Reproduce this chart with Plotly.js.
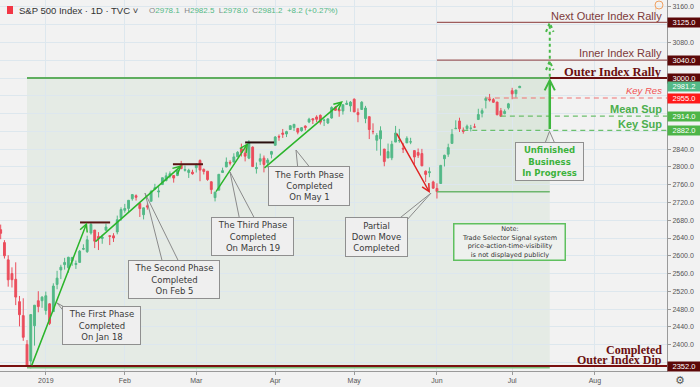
<!DOCTYPE html>
<html><head><meta charset="utf-8">
<script src="https://cdn.plot.ly/plotly-3.0.1.min.js"></script>
<style>html,body{margin:0;padding:0;background:#f2f2f2;}#chart{width:700px;height:387px;}</style>
</head><body><div id="chart"></div>
<script>
// ---- data (S&P 500 Index, daily, TVC) ----
const dates = ["2018-12-12","2018-12-13","2018-12-14","2018-12-17","2018-12-18","2018-12-19","2018-12-20","2018-12-21","2018-12-24","2018-12-26","2018-12-27","2018-12-28","2018-12-31",
"2019-01-02","2019-01-03","2019-01-04","2019-01-07","2019-01-08","2019-01-09","2019-01-10","2019-01-11","2019-01-14","2019-01-15","2019-01-16","2019-01-17","2019-01-18","2019-01-22","2019-01-23","2019-01-24","2019-01-25","2019-01-28","2019-01-29","2019-01-30","2019-01-31",
"2019-02-01","2019-02-04","2019-02-05","2019-02-06","2019-02-07","2019-02-08","2019-02-11","2019-02-12","2019-02-13","2019-02-14","2019-02-15","2019-02-19","2019-02-20","2019-02-21","2019-02-22","2019-02-25","2019-02-26","2019-02-27","2019-02-28",
"2019-03-01","2019-03-04","2019-03-05","2019-03-06","2019-03-07","2019-03-08","2019-03-11","2019-03-12","2019-03-13","2019-03-14","2019-03-15","2019-03-18","2019-03-19","2019-03-20","2019-03-21","2019-03-22","2019-03-25","2019-03-26","2019-03-27","2019-03-28","2019-03-29",
"2019-04-01","2019-04-02","2019-04-03","2019-04-04","2019-04-05","2019-04-08","2019-04-09","2019-04-10","2019-04-11","2019-04-12","2019-04-15","2019-04-16","2019-04-17","2019-04-18","2019-04-22","2019-04-23","2019-04-24","2019-04-25","2019-04-26","2019-04-29","2019-04-30",
"2019-05-01","2019-05-02","2019-05-03","2019-05-06","2019-05-07","2019-05-08","2019-05-09","2019-05-10","2019-05-13","2019-05-14","2019-05-15","2019-05-16","2019-05-17","2019-05-20","2019-05-21","2019-05-22","2019-05-23","2019-05-24","2019-05-28","2019-05-29","2019-05-30","2019-05-31",
"2019-06-03","2019-06-04","2019-06-05","2019-06-06","2019-06-07","2019-06-10","2019-06-11","2019-06-12","2019-06-13","2019-06-14","2019-06-17","2019-06-18","2019-06-19","2019-06-20","2019-06-21","2019-06-24","2019-06-25","2019-06-26","2019-06-27","2019-06-28",
"2019-07-01","2019-07-02","2019-07-03"];
const open = [2658.2,2658.7,2629.7,2590.8,2559.9,2547.1,2496.8,2465.4,2400.6,2363.1,2442.5,2498.8,2498.9,
2477.0,2491.9,2474.3,2535.6,2568.1,2580.0,2573.5,2588.1,2580.3,2585.1,2614.8,2609.3,2651.3,2657.9,2643.5,2638.8,2657.4,2645.0,2644.9,2653.6,2685.5,
2702.3,2706.5,2728.3,2735.1,2717.5,2692.4,2712.4,2722.6,2750.3,2743.5,2760.2,2769.3,2779.1,2780.7,2780.7,2804.4,2792.4,2787.5,2788.1,
2798.2,2814.4,2794.4,2790.3,2766.5,2730.8,2747.6,2787.3,2799.8,2810.4,2810.8,2822.6,2840.8,2831.3,2819.7,2844.5,2796.0,2812.7,2819.7,2809.4,2828.3,
2848.6,2868.2,2876.1,2874.0,2884.2,2888.5,2886.6,2881.4,2891.9,2900.9,2908.3,2912.3,2916.0,2904.8,2898.8,2910.0,2934.0,2929.0,2925.8,2940.6,2937.1,
2952.3,2922.2,2929.2,2908.9,2913.0,2879.6,2859.8,2863.1,2840.2,2820.1,2820.4,2855.8,2858.6,2841.9,2854.0,2856.1,2836.7,2832.4,2830.0,2790.3,2786.9,2766.2,
2751.5,2762.6,2818.1,2828.5,2852.9,2885.8,2903.3,2882.7,2886.2,2886.8,2889.8,2906.7,2920.6,2949.6,2952.7,2951.4,2945.8,2926.1,2919.7,2932.9,
2971.4,2964.7,2978.1];
const high = [2685.4,2670.2,2635.1,2601.1,2574.0,2585.3,2509.6,2504.4,2410.3,2467.8,2489.1,2520.3,2509.2,
2519.5,2493.1,2538.1,2566.2,2579.8,2595.3,2597.8,2596.3,2589.3,2613.1,2625.8,2645.1,2675.5,2657.9,2653.2,2647.2,2672.4,2645.0,2650.9,2690.4,2709.0,
2716.7,2725.0,2739.0,2738.1,2719.3,2708.1,2718.1,2748.2,2761.9,2757.9,2775.7,2787.3,2789.9,2781.6,2794.2,2813.5,2803.1,2795.8,2793.7,
2808.0,2816.9,2796.4,2790.3,2767.3,2744.1,2784.0,2798.3,2821.2,2815.0,2830.7,2835.4,2852.4,2843.5,2860.3,2846.2,2809.8,2829.9,2825.6,2819.7,2836.0,
2869.4,2872.9,2885.3,2881.3,2893.2,2896.0,2886.9,2889.7,2893.4,2910.5,2909.6,2916.1,2918.0,2908.4,2909.5,2936.3,2936.8,2933.1,2939.9,2949.5,2948.2,
2954.1,2931.7,2947.9,2937.3,2913.0,2898.0,2876.0,2891.3,2840.2,2852.5,2858.7,2892.2,2885.5,2853.9,2868.9,2865.5,2836.7,2841.4,2840.5,2792.0,2799.0,2769.0,
2763.1,2804.5,2827.3,2852.1,2885.0,2904.8,2910.6,2888.6,2895.2,2894.5,2897.3,2930.8,2931.7,2958.1,2964.2,2954.9,2946.5,2932.6,2929.3,2944.0,
2977.9,2973.2,2982.5];
const low = [2650.3,2637.3,2593.8,2530.5,2528.7,2489.0,2441.2,2408.6,2351.1,2346.6,2397.9,2472.9,2482.8,
2467.5,2444.0,2474.3,2524.6,2547.6,2568.9,2562.0,2577.4,2570.4,2585.1,2612.7,2606.4,2647.6,2617.3,2612.9,2627.0,2657.3,2624.1,2631.1,2648.3,2678.7,
2696.9,2698.8,2724.0,2724.2,2687.3,2681.8,2703.8,2722.6,2748.6,2731.2,2760.2,2767.3,2774.1,2764.6,2779.1,2795.0,2789.5,2775.1,2782.5,
2787.4,2767.7,2783.0,2768.7,2739.1,2722.3,2747.6,2786.7,2799.8,2803.5,2810.8,2822.0,2823.3,2812.4,2817.4,2800.5,2785.0,2804.0,2787.7,2798.8,2819.2,
2848.6,2858.8,2865.2,2867.1,2883.0,2880.8,2873.3,2879.1,2882.0,2898.4,2896.5,2900.7,2895.5,2891.9,2896.4,2908.5,2926.1,2912.8,2917.6,2939.4,2924.1,
2923.4,2900.5,2929.2,2898.2,2862.6,2873.3,2836.4,2825.4,2801.4,2820.1,2815.1,2855.8,2854.2,2831.3,2854.0,2851.1,2805.5,2820.2,2801.6,2766.1,2776.7,2750.5,
2728.8,2762.6,2800.9,2822.5,2852.9,2885.5,2878.5,2874.7,2882.0,2879.6,2887.3,2905.4,2911.4,2931.5,2946.9,2944.1,2916.0,2913.0,2918.6,2929.1,
2952.2,2955.9,2978.0];
const close = [2651.1,2650.5,2600.0,2545.9,2546.2,2507.0,2467.4,2416.6,2351.1,2467.7,2488.8,2485.7,2506.9,
2510.0,2447.9,2531.9,2549.7,2574.4,2585.0,2596.6,2596.3,2582.6,2610.3,2616.1,2636.0,2670.7,2632.9,2638.7,2642.3,2664.8,2643.9,2640.0,2681.1,2704.1,
2706.5,2724.9,2737.7,2731.6,2706.1,2707.9,2709.8,2744.7,2753.0,2745.7,2775.6,2779.8,2784.7,2774.9,2792.7,2796.1,2793.9,2792.4,2784.5,
2803.7,2792.8,2789.7,2771.5,2748.9,2743.1,2783.3,2791.5,2810.9,2808.5,2822.5,2832.9,2832.6,2824.2,2854.9,2800.7,2798.4,2818.5,2805.4,2815.4,2834.4,
2867.2,2867.2,2873.4,2879.4,2892.7,2895.8,2878.2,2888.2,2888.3,2907.4,2905.6,2907.1,2900.5,2905.0,2908.0,2933.7,2927.3,2926.2,2939.9,2943.0,2945.8,
2923.7,2917.5,2945.6,2932.5,2884.1,2879.4,2870.7,2881.4,2811.9,2834.4,2851.0,2876.3,2859.5,2840.2,2864.4,2856.3,2822.2,2826.1,2802.4,2783.0,2788.9,2752.1,
2744.5,2803.3,2826.2,2843.5,2873.3,2886.7,2885.7,2879.8,2891.6,2887.0,2889.7,2917.8,2926.5,2954.2,2950.5,2945.4,2917.4,2913.8,2924.9,2941.8,
2964.3,2973.0,2981.2];

const monthTicks  = ["2019-01-02","2019-02-01","2019-03-01","2019-04-01","2019-05-01","2019-06-03","2019-07-01","2019-08-01"];
const monthLabels = ["2019","Feb","Mar","Apr","May","Jun","Jul","Aug"];
const holidays = ["2018-12-25","2019-01-01","2019-01-21","2019-02-18","2019-04-19","2019-05-27","2019-07-04"];
// price-scale labels left visible beside the tags
const priceTicks = [2400,2440,2480,2520,2560,2600,2640,2680,2720,2760,2800,2840,3080,3160];

// levels
const levelNames  = ["Next Outer Index Rally","Inner Index Rally","Outer Index Rally","Key Res","Mean Sup","Key Sup","Outer Index Dip"];
const levelValues = [3125, 3040, 3000, 2955, 2914, 2882, 2352];
const lastPrice = 2981.2;
const tagValues = [3125, 3040, 3000, lastPrice, 2955, 2914, 2882, 2352];
const tagColors = ["#5c0808","#5c0808","#5c0808","#53b987","#ff1a1a","#4db548","#4db548","#5c0808"];

// ---- helpers ----
function pos(d, f){ const t = Date.parse(d+"T12:00:00Z") + (f||0)*864e5; return new Date(t).toISOString().slice(0,19).replace("T"," "); }
const xStart = pos("2018-12-13",-0.18), xEnd = pos("2019-08-28",0.17);

const traces = [];
traces.push({type:"candlestick", x:dates.map(d=>pos(d)), open:open, high:high, low:low, close:close,
  increasing:{line:{color:"#53b987",width:1},fillcolor:"#53b987"},
  decreasing:{line:{color:"#eb4d5c",width:1},fillcolor:"#eb4d5c"},
  whiskerwidth:0, hoverinfo:"skip", showlegend:false});

// callout tails (tip + two base points on the box edge)
function tail(b1, tip, b2){
  return {type:"scatter", mode:"lines", x:[b1[0],tip[0],b2[0]], y:[b1[1],tip[1],b2[1]],
    line:{color:"#8a8a8a",width:1}, hoverinfo:"skip", showlegend:false};
}
traces.push(tail([pos("2019-01-09",0.37),2482.5],[pos("2019-01-07",0),2493.8],[pos("2019-01-09",0.37),2469]));
traces.push(tail([pos("2019-02-15",0.16),2581],[pos("2019-02-08",0.38),2741],[pos("2019-02-25",-0.32),2581]));
traces.push(tail([pos("2019-03-19",-0.37),2678],[pos("2019-03-14",-0.02),2788.5],[pos("2019-03-25",-0.11),2678]));
traces.push(tail([pos("2019-04-09",0.05),2793],[pos("2019-04-09",-0.48),2838],[pos("2019-04-15",-0.23),2793]));
traces.push(tail([pos("2019-05-16",0.09),2678],[pos("2019-05-30",0.42),2741],[pos("2019-05-21",-0.25),2678]));
traces.push(tail([pos("2019-07-12",0.46),2847],[pos("2019-07-16",-0.08),2880],[pos("2019-07-18",-0.35),2847]));

// dotted projection arrow
const dotLine = {color:"#47b847",width:2,dash:"dot"};
traces.push({type:"scatter",mode:"lines",x:[pos("2019-07-16"),pos("2019-07-16")],y:[3003,3122],line:dotLine,hoverinfo:"skip",showlegend:false});
traces.push({type:"scatter",mode:"lines",x:[pos("2019-07-15"),pos("2019-07-16"),pos("2019-07-17")],y:[3104,3124,3104],line:dotLine,hoverinfo:"skip",showlegend:false});
traces.push({type:"scatter",mode:"lines",x:[pos("2019-07-15"),pos("2019-07-16"),pos("2019-07-17")],y:[3018,3038,3018],line:dotLine,hoverinfo:"skip",showlegend:false});

// ---- shapes ----
function hline(x0,x1,y,color,width,dash){ return {type:"line",xref:"x",yref:"y",x0:x0,x1:x1,y0:y,y1:y,line:{color:color,width:width,dash:dash||"solid"}}; }
const shapes = [
  {type:"rect",xref:"x",yref:"y",x0:pos("2018-12-24"),x1:pos("2019-07-16"),y0:2348,y1:3000,fillcolor:"rgba(70,150,70,0.07)",line:{width:0},layer:"below"},
  {type:"rect",xref:"x",yref:"y",x0:pos("2019-06-03"),x1:pos("2019-07-16"),y0:2744,y1:3040,fillcolor:"rgba(70,150,70,0.05)",line:{width:0},layer:"below"},
  hline(pos("2018-12-24"),pos("2019-07-16"),3000,"#5fae5f",2),
  hline(pos("2018-12-24"),pos("2019-07-16"),2348,"#7cc07c",1.5),
  hline(pos("2019-06-03"),pos("2019-07-16"),2744,"#6db66d",1.5),
  hline(pos("2019-06-03"),xEnd,levelValues[0],"#9e5c5c",1.3),
  hline(pos("2019-06-03"),xEnd,levelValues[1],"#9e5c5c",1.3),
  hline(pos("2019-07-16"),xEnd,levelValues[2],"#6b1010",2),
  hline(xStart,xEnd,levelValues[6],"#7a1010",2),
  hline(pos("2019-06-20"),xEnd,levelValues[3],"#f07272",1.2,"5px,4px"),
  hline(pos("2019-06-26"),xEnd,levelValues[4],"#6cbf6c",1.2,"5px,4px"),
  hline(pos("2019-06-12"),xEnd,levelValues[5],"#6cbf6c",1.2,"5px,4px"),
  // phase tops
  hline(pos("2019-01-15",0.1),pos("2019-01-28",0.1),2675,"#5a1414",2),
  hline(pos("2019-02-21",-0.2),pos("2019-03-05",-0.2),2806,"#5a1414",2),
  hline(pos("2019-03-20",0),pos("2019-04-01",-0.3),2855,"#2a1010",2),
  // header icons
  {type:"rect",xref:"paper",yref:"paper",x0:7/667,x1:13/667,y0:1-14/371,y1:1-6/371,fillcolor:"#f23645",line:{width:0}},
  {type:"circle",xref:"paper",yref:"paper",x0:655/667,x1:663/667,y0:1-9/371,y1:1-1/371,line:{color:"#f0a060",width:1}}
];

// ---- annotations ----
const ann = [];
function arrow(tail, tip, color, width, size){
  ann.push({xref:"x",yref:"y",axref:"x",ayref:"y",x:tip[0],y:tip[1],ax:tail[0],ay:tail[1],text:"",showarrow:true,
    arrowhead:5,arrowsize:size||1,arrowwidth:width,arrowcolor:color});
}
arrow([pos("2018-12-26",0.1),2350],[pos("2019-01-17",-0.05),2675],"#2bb52b",1.5);
arrow([pos("2019-01-22",-0.2),2629],[pos("2019-02-25",0.2),2804],"#2bb52b",1.5);
arrow([pos("2019-03-08"),2741],[pos("2019-03-21",-0.2),2854],"#2bb52b",1.5);
arrow([pos("2019-03-27",-0.25),2795],[pos("2019-04-26"),2948],"#2bb52b",1.5);
arrow([pos("2019-05-16",0.1),2878],[pos("2019-05-30",0.15),2741],"#e02222",1.5);
arrow([pos("2019-07-16"),2882],[pos("2019-07-16"),3000],"#3db63d",2.5,0.8);

const boxFont = {family:"DejaVu Sans",size:8.5,color:"#3a3a3a"};
function callout(x,y,text,w,h,font,border){
  ann.push({xref:"x",yref:"y",x:x,y:y,text:text,showarrow:false,font:font||boxFont,bgcolor:"#efefef",
    bordercolor:border||"#8f8f8f",borderwidth:1,borderpad:1,width:w,height:h,align:"center",valign:"middle"});
}
callout(pos("2019-01-24",-0.19),2443,"The First Phase<br>Completed<br>On Jan 18",75,35);
callout(pos("2019-02-21",0.09),2546.6,"The Second Phase<br>Completed<br>On Feb 5",88,35);
callout(pos("2019-03-22",-0.04),2643.4,"The Third Phase<br>Completed<br>On March 19",79,35);
callout(pos("2019-04-12",-0.02),2757,"The Forth Phase<br>Completed<br>On May 1",78,36);
callout(pos("2019-05-09",-0.07),2642,"Partial<br>Down Move<br>Completed",59,36);
callout(pos("2019-07-16",-0.07),2812,"<b>Unfinished<br>Business<br>In Progress</b>",65,35,{family:"DejaVu Sans",size:8.5,color:"#3cb33c"});
ann.push({xref:"x",yref:"y",x:pos("2019-06-28",0.4),y:2632,text:"Note:<br>Trade Selector Signal system<br>price-action-time-visibility<br>is not displayed publicly",
  showarrow:false,font:{family:"DejaVu Sans",size:6.5,color:"#333"},bgcolor:"#eef1ee",bordercolor:"#5fc05f",borderwidth:1.5,borderpad:1,width:108,height:33});

// level labels on the right
function rlabel(text,y,font,shift){
  ann.push({xref:"paper",yref:"y",x:1,xanchor:"right",xshift:-3,y:y,yanchor:"bottom",yshift:shift||0,text:text,showarrow:false,font:font});
}
const thin = {family:"Liberation Sans",size:11,color:"#7d3a3a"};
const boldSerif = {family:"Liberation Serif",size:12.5,color:"#6b0f0f"};
const dipSerif = {family:"Liberation Serif",size:12,color:"#6b0f0f"};
rlabel(levelNames[0],levelValues[0],thin,-1.5);
rlabel(levelNames[1],levelValues[1],thin,-1);
rlabel("<b>"+levelNames[2]+"</b>",levelValues[2],boldSerif,-2.5);
rlabel("<i>"+levelNames[3]+"</i>",levelValues[3],{family:"Liberation Sans",size:9.5,color:"#f05050"},0);
rlabel("<b>"+levelNames[4]+"</b>",levelValues[4],{family:"Liberation Sans",size:11,color:"#4cae4c"},-1);
rlabel("<b>"+levelNames[5]+"</b>",levelValues[5],{family:"Liberation Sans",size:11,color:"#4cae4c"},-1.5);
rlabel("<b>"+levelNames[6]+"</b>",levelValues[6],dipSerif,-2.5);
rlabel("<b>Completed</b>",levelValues[6],dipSerif,7);

// price tags on the axis
tagValues.forEach((v,i)=>{
  ann.push({xref:"paper",yref:"y",x:1,xanchor:"left",y:v,yanchor:"middle",text:v.toFixed(1),showarrow:false,
    font:{family:"Liberation Sans",size:7.5,color:"#ffffff"},bgcolor:tagColors[i],borderpad:1,width:30,height:7});
});

// header
ann.push({xref:"paper",yref:"paper",x:17/667,xanchor:"left",y:1-10/371,yanchor:"middle",showarrow:false,
  text:"S&amp;P 500 Index · 1D · TVC ˅",font:{family:"Liberation Sans",size:9.5,color:"#333"}});
const g = s => "<span style='color:#53b987'>"+s+"</span>";
ann.push({xref:"paper",yref:"paper",x:147/667,xanchor:"left",y:1-10/371,yanchor:"middle",showarrow:false,
  text:"O"+g(open[open.length-1].toFixed(1))+"  H"+g(high[high.length-1].toFixed(1))+"  L"+g(low[low.length-1].toFixed(1))+"  C"+g(close[close.length-1].toFixed(1))+"  "+g("+8.2 (+0.27%)"),
  font:{family:"Liberation Sans",size:8,color:"#888"}});
ann.push({xref:"paper",yref:"paper",x:659/667,y:1-5/371,showarrow:false,text:"!",font:{family:"Liberation Sans",size:5.5,color:"#f0a060"}});
ann.push({xref:"paper",yref:"paper",x:687/667,y:-9/371,yanchor:"middle",showarrow:false,text:"⚙",font:{family:"DejaVu Sans",size:11,color:"#555"}});

const layout = {
  width:700,height:387,margin:{l:0,r:33,t:0,b:16},
  paper_bgcolor:"#f2f2f2",plot_bgcolor:"#f2f2f2",
  font:{family:"Liberation Sans",size:8,color:"#555"},
  showlegend:false,hovermode:false,dragmode:false,
  xaxis:{type:"date",range:[xStart,xEnd],rangebreaks:[{bounds:["sat","mon"]},{values:holidays}],
    tickvals:monthTicks.map(d=>pos(d)),ticktext:monthLabels,ticks:"outside",ticklen:3,tickcolor:"#999",
    showline:true,linecolor:"#9a9a9a",linewidth:1,showgrid:true,gridcolor:"#dde7ee",zeroline:false,
    tickfont:{size:7,color:"#555"},rangeslider:{visible:false},fixedrange:true},
  yaxis:{side:"right",range:[2340.75,3175.5],tickmode:"array",tickvals:priceTicks,tickformat:".1f",ticks:"outside",ticklen:3,tickcolor:"#999",
    showline:true,linecolor:"#9a9a9a",linewidth:1,showgrid:true,gridcolor:"#dde7ee",zeroline:false,
    minor:{tick0:2400,dtick:40,showgrid:true,gridcolor:"#dde7ee",gridwidth:1,ticks:""},
    tickfont:{size:7,color:"#555"},fixedrange:true},
  shapes:shapes, annotations:ann
};
Plotly.newPlot("chart",traces,layout,{staticPlot:true,displayModeBar:false});
</script></body></html>
